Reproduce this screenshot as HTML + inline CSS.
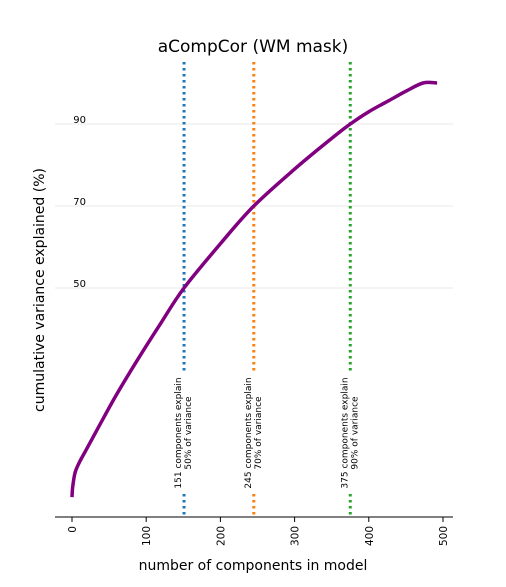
<!DOCTYPE html>
<html><head><meta charset="utf-8"><style>
body{margin:0;background:#fff}
svg text{font-family:"DejaVu Sans","Liberation Sans",sans-serif}
</style></head><body>
<svg id="chart" width="506" height="582" viewBox="0 0 506 582" xmlns="http://www.w3.org/2000/svg">
<text x="253" y="52" font-size="17" text-anchor="middle">aCompCor (WM mask)</text>
<text transform="translate(44,290) rotate(-90)" font-size="14" text-anchor="middle">cumulative variance explained (%)</text>
<text x="253" y="570" font-size="14" text-anchor="middle">number of components in model</text>
<g id="grid"></g>
<g id="vlines"></g>
<path id="curve" fill="none" stroke="#800080" stroke-width="3.5" stroke-linejoin="round"/>
<line x1="55" y1="517" x2="453" y2="517" stroke="#000" stroke-width="1"/>
<g id="xticks"></g>
</svg>
<script>
const xVals=[0,1,4,10,20,40,60,88,120,151,200,245,300,350,375,400,430,450,473,492];
const yVals=[-1,1.5,4.9,7.5,10.8,17.5,24,32.4,41.5,50,60.8,70,79,86.5,90,93,96,98,100,100];
const yTicks=[50,70,90];
const xTicks=[0,100,200,300,400,500];
const thrX=[151,245,375];
const thrPct=[50,70,90];
const thrColors=['#1f77b4','#ff7f0e','#2ca02c'];
const sx=v=>72+v*0.742;
const sy=v=>288-(v-50)*4.1;
const NS='http://www.w3.org/2000/svg';
function mk(t,a,p){const e=document.createElementNS(NS,t);for(const k in a)e.setAttribute(k,a[k]);p.appendChild(e);return e;}
const grid=document.getElementById('grid');
yTicks.forEach(t=>{
 const l=mk('line',{x1:55,x2:453,y1:sy(t),y2:sy(t),stroke:'#e8e8e8','stroke-width':1},grid);
 
 
 const tx=mk('text',{x:86,y:sy(t)-1,'font-size':10,'text-anchor':'end'},grid);
 tx.textContent=t;
 
 
});
const vl=document.getElementById('vlines');
thrX.forEach((x,i)=>{
 const l=mk('line',{x1:sx(x),x2:sx(x),y1:62,y2:517,stroke:thrColors[i],'stroke-width':3,'stroke-dasharray':'2.5 3.5'},vl);
 
 
 const bg=mk('rect',{x:sx(x)-14,y:372,width:28,height:120,fill:'#fff'},vl);
 
 
 const t=mk('text',{transform:`translate(${sx(x)-3},433) rotate(-90)`,'font-size':9,'text-anchor':'middle'},vl);
 
 
 const a=mk('tspan',{x:0,dy:0},t);a.textContent=x+' components explain';
 const b=mk('tspan',{x:0,dy:10},t);b.textContent=thrPct[i]+'% of variance';
});
// Catmull-Rom smoothing
const P=xVals.map((x,i)=>[sx(x),sy(yVals[i])]);
let d='M'+P[0][0].toFixed(1)+','+P[0][1].toFixed(1);
for(let i=0;i<P.length-1;i++){
 const p0=P[Math.max(0,i-1)],p1=P[i],p2=P[i+1],p3=P[Math.min(P.length-1,i+2)];
 const c1=[p1[0]+(p2[0]-p0[0])/6,p1[1]+(p2[1]-p0[1])/6];
 const c2=[p2[0]-(p3[0]-p1[0])/6,p2[1]-(p3[1]-p1[1])/6];
 d+=`C${c1[0].toFixed(1)},${c1[1].toFixed(1)} ${c2[0].toFixed(1)},${c2[1].toFixed(1)} ${p2[0].toFixed(1)},${p2[1].toFixed(1)}`;
}
document.getElementById('curve').setAttribute('d',d);
const xt=document.getElementById('xticks');
xTicks.forEach(t=>{
 const l=mk('line',{x1:sx(t),x2:sx(t),y1:517,y2:522,stroke:'#000'},xt);
 
 
 const tx=mk('text',{transform:`translate(${sx(t)+4},526) rotate(-90)`,'font-size':10.5,'text-anchor':'end'},xt);
 tx.textContent=t;
 
 
});
</script>
</body></html>
